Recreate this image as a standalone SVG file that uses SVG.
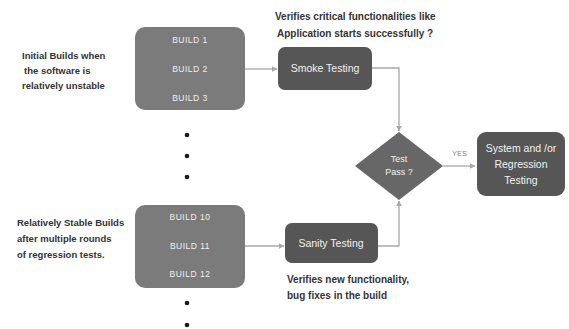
<svg xmlns="http://www.w3.org/2000/svg" width="569" height="329" viewBox="0 0 569 329">
<defs>
<style>
.build{fill:#7b7b7b;}
.dark{fill:#565656;}
.bt{font-family:"Liberation Sans",Arial,sans-serif;font-size:8.5px;fill:#f0f0f0;text-anchor:middle;letter-spacing:0.5px;}
.wt{font-family:"Liberation Sans",Arial,sans-serif;font-size:10.5px;fill:#f2f2f2;text-anchor:middle;}
.lt{font-family:"Liberation Sans",Arial,sans-serif;font-size:9.5px;font-weight:bold;fill:#333;}
.ct{font-family:"Liberation Sans",Arial,sans-serif;font-size:10px;font-weight:bold;fill:#333;}
.conn{fill:none;stroke:#a8a8a8;stroke-width:1.3;}
.dot{fill:#1a1a1a;}
</style>
<marker id="arr" viewBox="0 0 10 10" refX="9" refY="5" markerWidth="6" markerHeight="6" orient="auto" markerUnits="userSpaceOnUse">
<path d="M0,0 L10,5 L0,10 z" fill="#a8a8a8"/>
</marker>
</defs>
<rect width="569" height="329" fill="#ffffff"/>

<g id="connectors">
<line class="conn" x1="245" y1="69" x2="277" y2="69" marker-end="url(#arr)"/>
<polyline class="conn" points="372,68 399,68 399,131" marker-end="url(#arr)"/>
<line class="conn" x1="245" y1="246" x2="284" y2="246" marker-end="url(#arr)"/>
<polyline class="conn" points="378,246 399,246 399,201" marker-end="url(#arr)"/>
<line class="conn" x1="443" y1="166" x2="475" y2="166" marker-end="url(#arr)"/>
<text x="452" y="156" style="font-family:'Liberation Sans',Arial,sans-serif;font-size:7.5px;fill:#888;">YES</text>
</g>

<g id="label-initial">
<text class="lt" x="22" y="59">Initial Builds when</text>
<text class="lt" x="24" y="74">the software is</text>
<text class="lt" x="22" y="89">relatively unstable</text>
</g>

<g id="builds-top">
<rect class="build" x="135" y="27" width="110" height="83" rx="10"/>
<text class="bt" x="190" y="43">BUILD  1</text>
<text class="bt" x="190" y="72">BUILD  2</text>
<text class="bt" x="190" y="101">BUILD  3</text>
</g>

<g id="dots-mid">
<circle class="dot" cx="187" cy="135" r="2.3"/>
<circle class="dot" cx="187" cy="156" r="2.3"/>
<circle class="dot" cx="187" cy="177" r="2.3"/>
</g>

<g id="smoke">
<text class="ct" x="275" y="20">Verifies critical functionalities like</text>
<text class="ct" x="277" y="37">Application starts successfully ?</text>
<rect class="dark" x="278" y="47" width="94" height="43" rx="7"/>
<text class="wt" x="325" y="72">Smoke Testing</text>
</g>

<g id="decision">
<polygon class="dark" points="399,132 443,166 399,200 355,166" style="fill:#676767"/>
<text class="wt" x="399" y="162" style="font-size:9px">Test</text>
<text class="wt" x="399" y="175" style="font-size:9px">Pass ?</text>
</g>

<g id="system">
<rect class="dark" x="477" y="132" width="88" height="64" rx="9"/>
<text class="wt" x="521" y="152">System and /or</text>
<text class="wt" x="521" y="168">Regression</text>
<text class="wt" x="521" y="184">Testing</text>
</g>

<g id="label-stable">
<text class="lt" x="17" y="226">Relatively Stable Builds</text>
<text class="lt" x="17" y="242">after multiple rounds</text>
<text class="lt" x="17" y="258">of regression tests.</text>
</g>

<g id="builds-bottom">
<rect class="build" x="135" y="205" width="110" height="83" rx="10"/>
<text class="bt" x="190" y="220">BUILD  10</text>
<text class="bt" x="190" y="249">BUILD  11</text>
<text class="bt" x="190" y="277">BUILD  12</text>
</g>

<g id="dots-bottom">
<circle class="dot" cx="187" cy="303" r="2.3"/>
<circle class="dot" cx="187" cy="325" r="2.3"/>
</g>

<g id="sanity">
<rect class="dark" x="285" y="223" width="93" height="40" rx="7"/>
<text class="wt" x="331" y="247">Sanity Testing</text>
<text class="ct" x="287" y="283">Verifies new functionality,</text>
<text class="ct" x="287" y="299">bug fixes in the build</text>
</g>
</svg>
